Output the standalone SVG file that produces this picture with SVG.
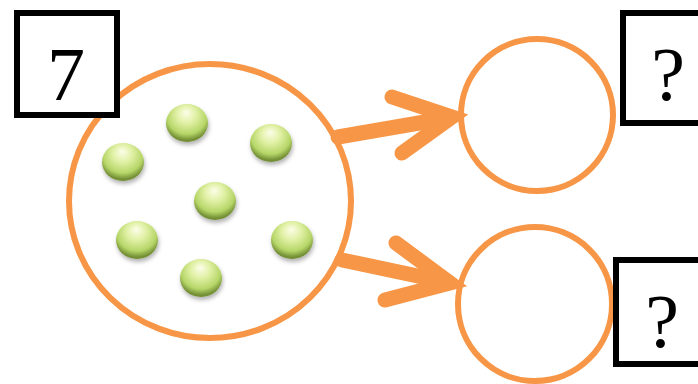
<svg xmlns="http://www.w3.org/2000/svg" width="698" height="384" viewBox="0 0 698 384">
  <defs>
    <radialGradient id="ballGrad" cx="50%" cy="35%" r="60%" fx="48%" fy="22%">
      <stop offset="0" stop-color="#fcfee8"/>
      <stop offset="0.4" stop-color="#e0f0a4"/>
      <stop offset="0.78" stop-color="#b6d668"/>
      <stop offset="1" stop-color="#748f36"/>
    </radialGradient>
    <filter id="shadow" x="-40%" y="-40%" width="180%" height="180%">
      <feDropShadow dx="1" dy="3" stdDeviation="2" flood-color="#000" flood-opacity="0.3"/>
    </filter>
  </defs>
  <style>
    .ring { fill: #ffffff; stroke: #f79646; stroke-width: 6; }
    .box { fill: #ffffff; stroke: #000000; stroke-width: 6; }
    .num { font-family: "Liberation Serif", "DejaVu Serif", serif; font-size: 76px; fill: #000; text-anchor: middle; }
    .arrow { fill: none; stroke: #f79646; stroke-width: 15; stroke-linecap: round; stroke-linejoin: miter; stroke-miterlimit: 10; }
    .ball { fill: url(#ballGrad); filter: url(#shadow); }
  </style>
  <rect width="698" height="384" fill="#ffffff"/>

  <g id="whole">
    <ellipse class="ring" cx="210" cy="201" rx="141" ry="137"/>
    <g id="balls">
      <ellipse class="ball" cx="187" cy="123" rx="21" ry="19"/>
      <ellipse class="ball" cx="271" cy="143" rx="21" ry="19"/>
      <ellipse class="ball" cx="123" cy="162" rx="21" ry="19"/>
      <ellipse class="ball" cx="215" cy="201" rx="21" ry="19"/>
      <ellipse class="ball" cx="137" cy="240" rx="21" ry="19"/>
      <ellipse class="ball" cx="292" cy="240" rx="21" ry="19"/>
      <ellipse class="ball" cx="201" cy="278" rx="21" ry="19"/>
    </g>
  </g>

  <g id="part-top">
    <circle class="ring" cx="537" cy="115" r="76"/>
  </g>
  <g id="part-bottom">
    <circle class="ring" cx="535" cy="304" r="77"/>
  </g>

  <g id="connectors">
    <path class="arrow" d="M338 137 L448 118"/>
    <path class="arrow" d="M392 97 L452 117 L402 153"/>
    <path class="arrow" d="M342 260 L446 282"/>
    <path class="arrow" d="M396 243 L450 283 L385 300"/>
  </g>

  <g id="label-total">
    <rect class="box" x="17" y="13" width="100" height="102"/>
    <text class="num" x="66" y="100">7</text>
  </g>
  <g id="label-top">
    <rect class="box" x="623" y="13" width="100" height="110"/>
    <text class="num" x="668" y="100">?</text>
  </g>
  <g id="label-bottom">
    <rect class="box" x="616" y="260" width="100" height="104"/>
    <text class="num" x="662" y="347">?</text>
  </g>
</svg>
